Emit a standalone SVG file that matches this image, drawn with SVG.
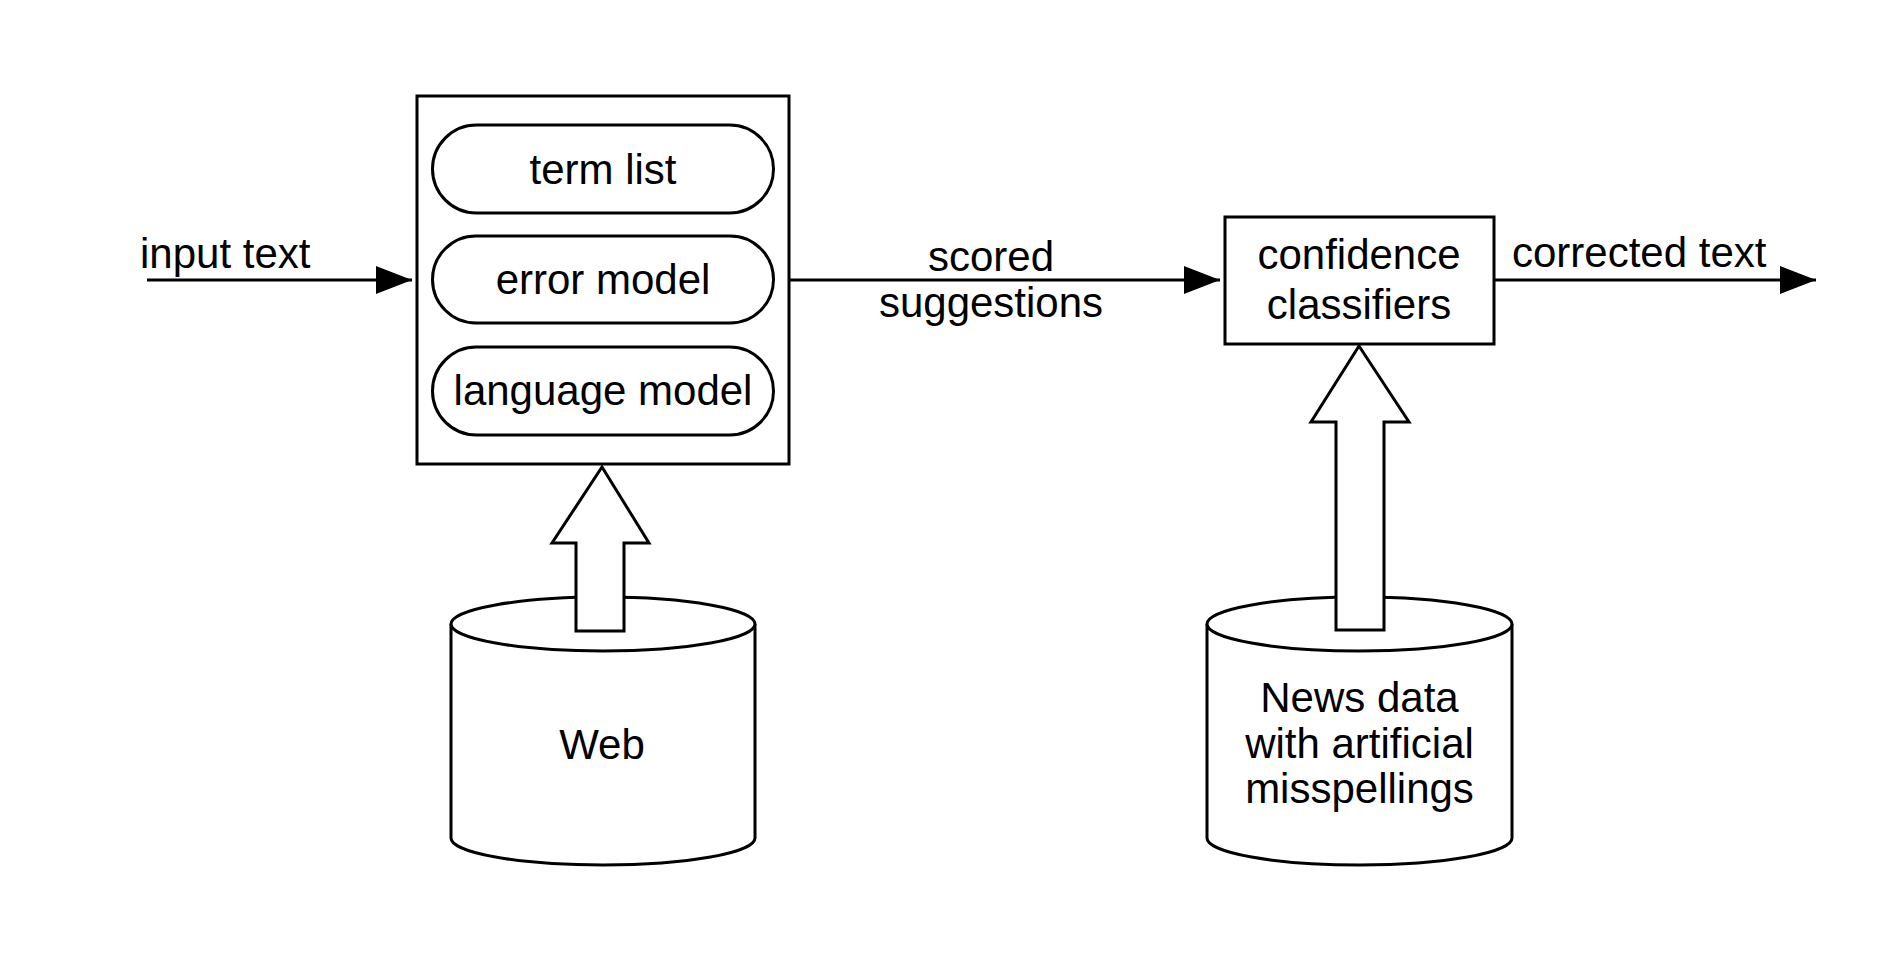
<svg xmlns="http://www.w3.org/2000/svg" width="1900" height="974" viewBox="0 0 1900 974">
<style>
.s{fill:#fff;stroke:#000;stroke-width:3;stroke-linejoin:miter}
.l{fill:none;stroke:#000;stroke-width:3}
.t{font-family:"Liberation Sans",Arial,Helvetica,sans-serif;font-size:42px;fill:#000}
.c{text-anchor:middle}
</style>
<defs>
<marker id="ah" markerUnits="userSpaceOnUse" markerWidth="40" markerHeight="30" refX="36" refY="14" orient="auto">
<path d="M0,0 L36,14 L0,28 Z" fill="#000"/>
</marker>
</defs>
<rect width="1900" height="974" fill="#fff"/>
<g id="connectors">
<line class="l" x1="147" y1="280" x2="412" y2="280" marker-end="url(#ah)"/>
<line class="l" x1="789" y1="280" x2="1220" y2="280" marker-end="url(#ah)"/>
<line class="l" x1="1494" y1="280" x2="1816" y2="280" marker-end="url(#ah)"/>
<text class="t" x="140" y="268">input text</text>
<text class="t c" x="991" y="271">scored</text>
<text class="t c" x="991" y="317">suggestions</text>
<text class="t" x="1512" y="267">corrected text</text>
</g>
<g id="speller">
<rect class="s" x="417" y="96" width="372" height="368"/>
<g id="term-list">
<rect class="s" x="432.5" y="125" width="341" height="88" rx="44" ry="44"/>
<text class="t c" x="603" y="184">term list</text>
</g>
<g id="error-model">
<rect class="s" x="432.5" y="236" width="341" height="87" rx="43.5" ry="43.5"/>
<text class="t c" x="603" y="294">error model</text>
</g>
<g id="language-model">
<rect class="s" x="432.5" y="347" width="341" height="88" rx="44" ry="44"/>
<text class="t c" x="603" y="405">language model</text>
</g>
</g>
<g id="confidence">
<rect class="s" x="1225" y="217" width="269" height="127"/>
<text class="t c" x="1359" y="269">confidence</text>
<text class="t c" x="1359" y="319">classifiers</text>
</g>
<g id="web">
<path class="s" d="M451,624 L451,838 A152,27 0 0 0 755,838 L755,624"/>
<ellipse class="s" cx="603" cy="624" rx="152" ry="27"/>
<text class="t c" x="602" y="759">Web</text>
</g>
<g id="news">
<path class="s" d="M1207,624 L1207,838 A152.5,27 0 0 0 1512,838 L1512,624"/>
<ellipse class="s" cx="1359.5" cy="624" rx="152.5" ry="27"/>
<text class="t c" x="1359.5" y="712">News data</text>
<text class="t c" x="1359.5" y="758">with artificial</text>
<text class="t c" x="1359.5" y="803">misspellings</text>
</g>
<g id="feed-arrows">
<polygon id="web-arrow" class="s" points="602,467 649,543 624,543 624,631 576,631 576,543 552,543"/>
<polygon id="news-arrow" class="s" points="1359,346 1409,422 1384,422 1384,630 1336,630 1336,422 1311,422"/>
</g>
</svg>
